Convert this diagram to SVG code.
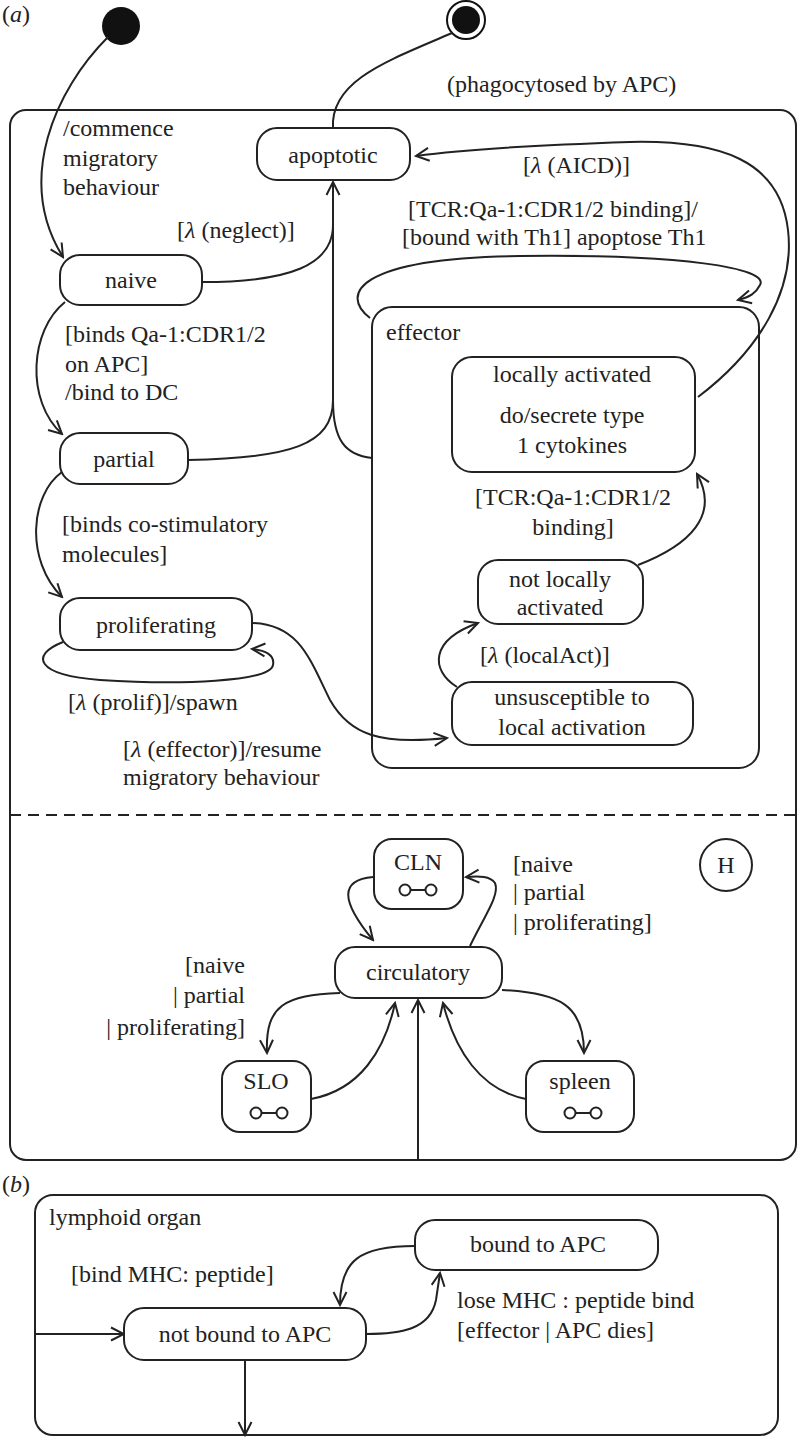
<svg xmlns="http://www.w3.org/2000/svg" width="798" height="1438" viewBox="0 0 798 1438">
<style>
text{font-family:"Liberation Serif","Times New Roman",serif;font-size:24px;fill:#222}
.c{text-anchor:middle}
.r{text-anchor:end}
.st{fill:#fff;stroke:#222;stroke-width:2}
.ln{fill:none;stroke:#222;stroke-width:2}
.ar{fill:none;stroke:#222;stroke-width:2;marker-end:url(#arr)}
.lam{font-style:italic}
</style>
<defs>
<marker id="arr" viewBox="-14 -8 16 16" refX="0" refY="0" markerWidth="16" markerHeight="16" markerUnits="userSpaceOnUse" orient="auto">
<path d="M-13,-6.5 L0,0 L-13,6.5" fill="none" stroke="#222" stroke-width="2"/>
</marker>
<g id="link">
<circle cx="-13" cy="0" r="5.5" fill="#fff" stroke="#222" stroke-width="2"/>
<circle cx="13" cy="0" r="5.5" fill="#fff" stroke="#222" stroke-width="2"/>
<line x1="-7.5" y1="0" x2="7.5" y2="0" stroke="#222" stroke-width="2"/>
</g>
</defs>
<rect width="798" height="1438" fill="#fff"/>

<text x="2" y="22">(<tspan class="lam">a</tspan>)</text>
<text x="2" y="1192">(<tspan class="lam">b</tspan>)</text>

<g id="frameA">
<rect x="10" y="110" width="786" height="1050" rx="16" class="ln"/>
<line x1="10" y1="815" x2="796" y2="815" stroke="#222" stroke-width="2" stroke-dasharray="11,7"/>
</g>

<g id="initial"><circle cx="121" cy="26" r="19" fill="#111"/></g>
<g id="final"><circle cx="466" cy="20" r="19" fill="#fff" stroke="#111" stroke-width="2"/><circle cx="466" cy="20" r="14" fill="#111"/></g>

<g id="effector">
<rect x="372" y="307" width="387" height="461" rx="20" class="st"/>
<text x="386" y="340">effector</text>
</g>

<g id="connectors">
<path class="ar" d="M108,37 C 55,90 15,180 63,257"/>
<path class="ln" d="M333,128 C 330,80 390,60 452,33"/>
<path class="ln" d="M202,282 C 290,282 333,265 333,225"/>
<path class="ar" d="M333,405 L333,182"/>
<path class="ln" d="M188,460 C 290,458 333,445 333,400"/>
<path class="ln" d="M372,458 C 345,455 333,440 333,400"/>
<path class="ar" d="M65,302 C 30,330 25,400 62,434"/>
<path class="ar" d="M62,472 C 30,495 25,560 62,597"/>
<path class="ar" d="M63,642 C 30,655 35,675 100,680 C 180,685 270,682 273,665 C 275,655 265,650 252,649"/>
<path class="ar" d="M253,623 C 300,625 310,660 330,700 C 350,735 380,745 447,738"/>
<path class="ar" d="M698,397 C 760,350 795,290 788,230 C 780,160 720,140 630,142 C 540,145 460,150 416,156"/>
<path class="ar" d="M370,318 C 340,295 355,258 520,256 C 680,254 770,268 760,285 C 756,293 750,297 738,300"/>
<path class="ar" d="M457,687 C 430,670 430,640 478,623"/>
<path class="ar" d="M638,565 C 690,545 720,515 697,474"/>
<path class="ar" d="M373,877 C 340,880 340,900 373,940"/>
<path class="ar" d="M470,946 C 485,915 500,895 495,883 C 490,876 480,876 466,877"/>
<path class="ar" d="M340,993 C 285,995 265,1005 267,1053"/>
<path class="ar" d="M311,1099 C 360,1090 385,1050 395,1003"/>
<path class="ar" d="M418,1160 L418,1000"/>
<path class="ar" d="M526,1099 C 480,1090 455,1050 443,1003"/>
<path class="ar" d="M502,990 C 560,993 584,1005 584,1053"/>
<path class="ar" d="M35,1334 L124,1334"/>
<path class="ar" d="M245,1360 L245,1435"/>
<path class="ar" d="M415,1246 C 360,1246 340,1260 340,1305"/>
<path class="ar" d="M366,1334 C 400,1334 430,1330 436,1300 L440,1273"/>
</g>

<g id="labels">
<text x="63" y="136">/commence</text>
<text x="63" y="166">migratory</text>
<text x="63" y="195">behaviour</text>
<text x="177" y="238">[<tspan class="lam">λ</tspan> (neglect)]</text>
<text x="447" y="92">(phagocytosed by APC)</text>
<text x="523" y="173">[<tspan class="lam">λ</tspan> (AICD)]</text>
<text x="408" y="217">[TCR:Qa-1:CDR1/2 binding]/</text>
<text x="402" y="245">[bound with Th1] apoptose Th1</text>
<text x="573" y="505" class="c">[TCR:Qa-1:CDR1/2</text>
<text x="573" y="535" class="c">binding]</text>
<text x="480" y="663">[<tspan class="lam">λ</tspan> (localAct)]</text>
<text x="65" y="342">[binds Qa-1:CDR1/2</text>
<text x="65" y="372">on APC]</text>
<text x="65" y="400">/bind to DC</text>
<text x="62" y="532">[binds co-stimulatory</text>
<text x="62" y="562">molecules]</text>
<text x="68" y="710">[<tspan class="lam">λ</tspan> (prolif)]/spawn</text>
<text x="123" y="757">[<tspan class="lam">λ</tspan> (effector)]/resume</text>
<text x="123" y="785">migratory behaviour</text>
<text x="513" y="872">[naive</text>
<text x="513" y="900">| partial</text>
<text x="513" y="930">| proliferating]</text>
<text x="245" y="973" class="r">[naive</text>
<text x="245" y="1003" class="r">| partial</text>
<text x="245" y="1035" class="r">| proliferating]</text>
<text x="71" y="1282">[bind MHC: peptide]</text>
<text x="457" y="1308">lose MHC : peptide bind</text>
<text x="457" y="1338">[effector | APC dies]</text>
</g>

<g id="apoptotic"><rect x="257" y="128" width="153" height="52" rx="20" class="st"/><text x="333" y="163" class="c">apoptotic</text></g>
<g id="naive"><rect x="60" y="255" width="142" height="50" rx="20" class="st"/><text x="131" y="288" class="c">naive</text></g>
<g id="partial"><rect x="60" y="433" width="128" height="51" rx="20" class="st"/><text x="124" y="467" class="c">partial</text></g>
<g id="proliferating"><rect x="60" y="598" width="192" height="52" rx="20" class="st"/><text x="156" y="633" class="c">proliferating</text></g>
<g id="locallyActivated"><rect x="452" y="357" width="243" height="115" rx="20" class="st"/>
<text x="572" y="382" class="c">locally activated</text>
<text x="572" y="423" class="c">do/secrete type</text>
<text x="572" y="453" class="c">1 cytokines</text></g>
<g id="notLocallyActivated"><rect x="478" y="560" width="165" height="64" rx="20" class="st"/>
<text x="560" y="587" class="c">not locally</text>
<text x="560" y="615" class="c">activated</text></g>
<g id="unsusceptible"><rect x="452" y="682" width="241" height="63" rx="20" class="st"/>
<text x="572" y="705" class="c">unsusceptible to</text>
<text x="572" y="735" class="c">local activation</text></g>

<g id="CLN"><rect x="374" y="839" width="89" height="70" rx="18" class="st"/><text x="418" y="870" class="c">CLN</text><use href="#link" x="418" y="890"/></g>
<g id="circulatory"><rect x="335" y="947" width="167" height="51" rx="20" class="st"/><text x="418" y="980" class="c">circulatory</text></g>
<g id="history"><circle cx="726" cy="865" r="26" class="st"/><text x="726" y="873" class="c">H</text></g>
<g id="SLO"><rect x="222" y="1061" width="89" height="71" rx="18" class="st"/><text x="266" y="1089" class="c">SLO</text><use href="#link" x="269" y="1113"/></g>
<g id="spleen"><rect x="526" y="1061" width="108" height="71" rx="18" class="st"/><text x="580" y="1089" class="c">spleen</text><use href="#link" x="583" y="1113"/></g>

<g id="lymphoidOrgan"><rect x="35" y="1195" width="743" height="240" rx="18" class="ln"/><text x="49" y="1225">lymphoid organ</text></g>
<g id="notBound"><rect x="124" y="1308" width="242" height="52" rx="20" class="st"/><text x="245" y="1342" class="c">not bound to APC</text></g>
<g id="bound"><rect x="415" y="1220" width="243" height="50" rx="20" class="st"/><text x="538" y="1252" class="c">bound to APC</text></g>
</svg>
